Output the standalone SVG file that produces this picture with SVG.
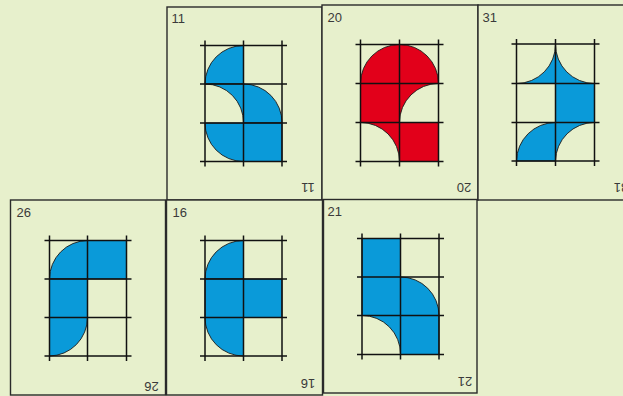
<svg xmlns="http://www.w3.org/2000/svg" width="623" height="396" viewBox="0 0 623 396">
<style>
.bg{fill:#e7f0cc}
.card{fill:#e7f0cc;stroke:#2a2a2a;stroke-width:1.4}
.b{fill:#0a9ad9;stroke:#1a1a1a;stroke-width:0.9}
.r{fill:#e2001a;stroke:#1a1a1a;stroke-width:0.9}
.g{stroke:#111;stroke-width:1.5;fill:none}
.t{font-family:"Liberation Sans",Arial,sans-serif;font-size:13px;fill:#3a3a3a}
</style>
<rect class="bg" x="0" y="0" width="623" height="396"/>

<g id="card11">
<rect class="card" x="167" y="7" width="155" height="193"/>
<path class="b" d="M243.5,45.5 A38.5,38.5 0 0 0 205,84 L243.5,84 Z"/>
<path class="b" d="M205,84 L243.5,84 L243.5,123 A38.5,38.5 0 0 0 205,84 Z"/>
<path class="b" d="M243.5,123 L243.5,84 A38.5,38.5 0 0 1 282,123 Z"/>
<path class="b" d="M243.5,123 L205,123 A38.5,38.5 0 0 0 243.5,161.5 Z"/>
<rect class="b" x="243.5" y="123" width="38.5" height="38.5"/>
<path class="g" d="M205,40.5V166.5M243.5,40.5V166.5M282,40.5V166.5M200,45.5H287M200,84H287M200,123H287M200,161.5H287"/>
<text class="t" x="171.5" y="23">11</text>
<text class="t" text-anchor="middle" transform="translate(308,182.5) rotate(180)">11</text>
</g>

<g id="card20">
<rect class="card" x="322" y="5" width="156" height="195"/>
<path class="r" d="M360.5,83.5 A39,39 0 0 1 438.5,83.5 Z"/>
<rect class="r" x="360.5" y="83.5" width="39" height="39"/>
<path class="r" d="M399.5,83.5 L438.5,83.5 A39,39 0 0 0 399.5,122.5 Z"/>
<path class="r" d="M360.5,122.5 L399.5,122.5 L399.5,161.5 A39,39 0 0 0 360.5,122.5 Z"/>
<rect class="r" x="399.5" y="122.5" width="39" height="39"/>
<path class="g" d="M360.5,39.5V166.5M399.5,39.5V166.5M438.5,39.5V166.5M355.5,44.5H443.5M355.5,83.5H443.5M355.5,122.5H443.5M355.5,161.5H443.5"/>
<text class="t" x="327.5" y="22">20</text>
<text class="t" text-anchor="middle" transform="translate(464,182.5) rotate(180)">20</text>
</g>

<g id="card31">
<rect class="card" x="478" y="5" width="160" height="195"/>
<path class="b" d="M516.5,83.5 L555.5,83.5 L555.5,44 A39,39 0 0 1 516.5,83.5 Z"/>
<path class="b" d="M555.5,44 L555.5,83.5 L594.5,83.5 A39,39 0 0 1 555.5,44 Z"/>
<rect class="b" x="555.5" y="83.5" width="39" height="39"/>
<path class="b" d="M555.5,161 L516.5,161 A39,39 0 0 1 555.5,122.5 Z"/>
<path class="b" d="M555.5,122.5 L594.5,122.5 A39,39 0 0 0 555.5,161 Z"/>
<path class="g" d="M516.5,39V166M555.5,39V166M594.5,39V166M511.5,44H599.5M511.5,83.5H599.5M511.5,122.5H599.5M511.5,161H599.5"/>
<text class="t" x="482.5" y="22">31</text>
<text class="t" text-anchor="middle" transform="translate(621,182.5) rotate(180)">31</text>
</g>

<g id="card26">
<rect class="card" x="10.5" y="200" width="155" height="195"/>
<path class="b" d="M87.5,240.5 A38.5,38.5 0 0 0 49.5,279 L87.5,279 Z"/>
<rect class="b" x="87.5" y="240.5" width="39" height="38.5"/>
<rect class="b" x="49.5" y="279" width="38" height="38.5"/>
<path class="b" d="M49.5,317.5 L87.5,317.5 A38.5,38.5 0 0 1 49.5,356 Z"/>
<path class="g" d="M49.5,235.5V361M87.5,235.5V361M126.5,235.5V361M44.5,240.5H131.5M44.5,279H131.5M44.5,317.5H131.5M44.5,356H131.5"/>
<text class="t" x="16.5" y="217">26</text>
<text class="t" text-anchor="middle" transform="translate(151.5,381.5) rotate(180)">26</text>
</g>

<g id="card16">
<rect class="card" x="166.5" y="200" width="156" height="195"/>
<path class="b" d="M243.5,240.5 A38.5,38.5 0 0 0 205,279 L243.5,279 Z"/>
<rect class="b" x="205" y="279" width="77" height="38.5"/>
<path class="b" d="M243.5,317.5 L205,317.5 A38.5,38.5 0 0 0 243.5,356 Z"/>
<path class="g" d="M205,235.5V361M243.5,235.5V361M282,235.5V361M200,240.5H287M200,279H287M200,317.5H287M200,356H287"/>
<text class="t" x="172.5" y="217">16</text>
<text class="t" text-anchor="middle" transform="translate(308,378.5) rotate(180)">16</text>
</g>

<g id="card21">
<rect class="card" x="323.5" y="199.5" width="153.5" height="193.5"/>
<rect class="b" x="362" y="238.5" width="38.5" height="77"/>
<path class="b" d="M400.5,315.5 L400.5,277 A38.5,38.5 0 0 1 439,315.5 Z"/>
<path class="b" d="M362,315.5 L400.5,315.5 L400.5,354.5 A38.5,38.5 0 0 0 362,315.5 Z"/>
<rect class="b" x="400.5" y="315.5" width="38.5" height="39"/>
<path class="g" d="M362,233.5V359.5M400.5,233.5V359.5M439,233.5V359.5M357,238.5H444M357,277H444M357,315.5H444M357,354.5H444"/>
<text class="t" x="327.5" y="216">21</text>
<text class="t" text-anchor="middle" transform="translate(465,376.5) rotate(180)">21</text>
</g>

<g id="connectors"></g>
</svg>
